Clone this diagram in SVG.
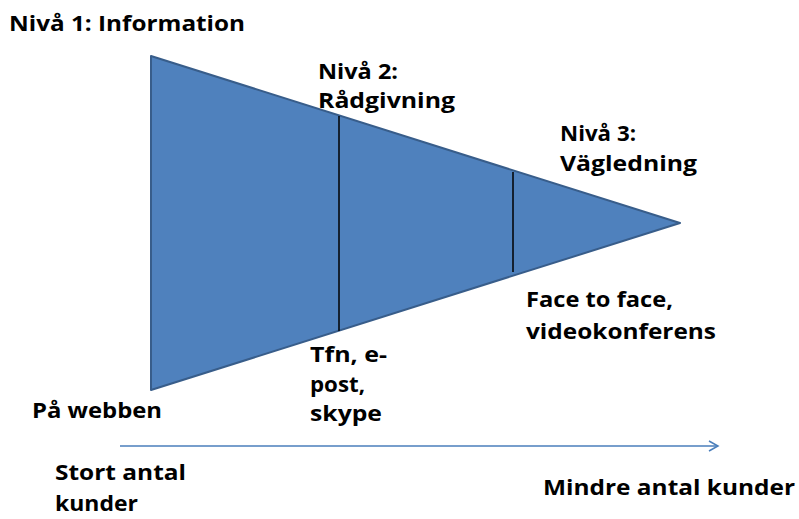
<svg xmlns="http://www.w3.org/2000/svg" width="799" height="519" viewBox="0 0 799 519">
<defs>
<style>
text{font-family:"Open Sans","Liberation Sans",sans-serif;font-weight:bold;font-size:21px;fill:#000}
.div{stroke:#000;stroke-width:1.5}
</style>
<marker id="arr" markerWidth="12" markerHeight="12" refX="10" refY="6" orient="auto" markerUnits="userSpaceOnUse">
<path d="M1,1 L10,6 L1,11" fill="none" stroke="#4a7ebb" stroke-width="1.5"/>
</marker>
</defs>
<rect width="799" height="519" fill="#fff"/>
<g id="funnel">
<polygon points="151,56 680,223 151,390" fill="#4f81bd" stroke="#385d8a" stroke-width="2" stroke-linejoin="round"/>
<line class="div" x1="339" y1="116" x2="339" y2="331"/>
<line class="div" x1="513" y1="172" x2="513" y2="272"/>
</g>
<g id="connectors">
<line x1="120" y1="446" x2="718" y2="446" stroke="#4a7ebb" stroke-width="1.5" marker-end="url(#arr)"/>
</g>
<g id="labels">
<text x="9" y="31" textLength="236" lengthAdjust="spacingAndGlyphs">Nivå 1: Information</text>
<text x="318" y="79" textLength="80" lengthAdjust="spacingAndGlyphs">Nivå 2:</text>
<text x="318" y="108" textLength="137" lengthAdjust="spacingAndGlyphs">Rådgivning</text>
<text x="560" y="141" textLength="76" lengthAdjust="spacingAndGlyphs">Nivå 3:</text>
<text x="560" y="171" textLength="137" lengthAdjust="spacingAndGlyphs">Vägledning</text>
<text x="526" y="307" textLength="147" lengthAdjust="spacingAndGlyphs">Face to face,</text>
<text x="526" y="339" textLength="190" lengthAdjust="spacingAndGlyphs">videokonferens</text>
<text x="310" y="362" textLength="77" lengthAdjust="spacingAndGlyphs">Tfn, e-</text>
<text x="310" y="392" textLength="55" lengthAdjust="spacingAndGlyphs">post,</text>
<text x="310" y="421" textLength="72" lengthAdjust="spacingAndGlyphs">skype</text>
<text x="32" y="418" textLength="130" lengthAdjust="spacingAndGlyphs">På webben</text>
<text x="55" y="480" textLength="131" lengthAdjust="spacingAndGlyphs">Stort antal</text>
<text x="55" y="511" textLength="83" lengthAdjust="spacingAndGlyphs">kunder</text>
<text x="543" y="495" textLength="252" lengthAdjust="spacingAndGlyphs">Mindre antal kunder</text>
</g>
</svg>
